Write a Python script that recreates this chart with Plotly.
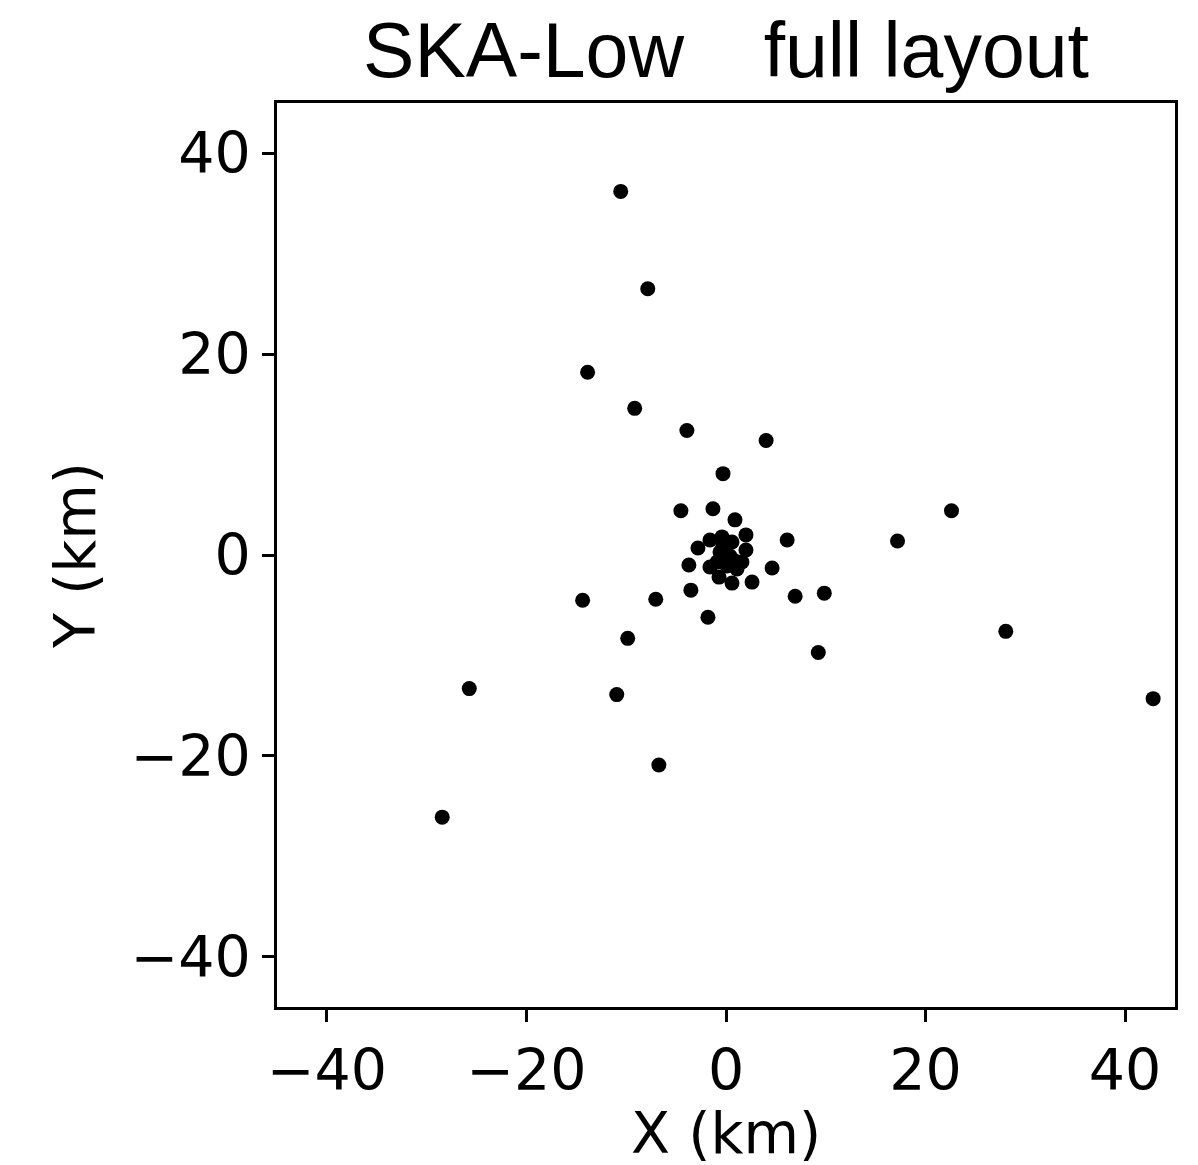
import plotly.graph_objects as go

# Station positions (km)
x_km = [-10.55, -7.84, -13.87, -9.15, -3.92, 4.02, -0.3, -4.52, -1.31, 0.9,
        2.0, 6.13, 17.19, 22.6, -2.81, -1.61, -0.4, 0.6, 2.0, 1.6,
        -3.72, -1.61, -0.7, 0.6, 2.61, 4.62, -3.52, -7.04, -14.37, -1.81,
        6.93, 9.85, -9.85, 9.25, 28.04, 42.81, -25.73, -10.95, -6.73, -28.44,
        -0.6, 0.4, -0.9, 0.1, 0.9, -0.3, 1.1]
y_km = [36.2, 26.5, 18.2, 14.6, 12.4, 11.4, 8.1, 4.4, 4.6, 3.5,
        2.0, 1.5, 1.4, 4.4, 0.7, 1.5, 1.8, 1.3, 0.5, -0.7,
        -1.0, -1.2, -2.2, -2.8, -2.7, -1.3, -3.5, -4.4, -4.5, -6.2,
        -4.1, -3.8, -8.3, -9.7, -7.6, -14.3, -13.3, -13.9, -20.9, -26.1,
        0.3, -0.1, -0.7, -1.1, -0.6, 0.9, -1.4]

tick_vals = [-40, -20, 0, 20, 40]
title_text = "SKA-Low\u00a0\u00a0\u00a0\u2009full layout"
x_title = "X (km)"
y_title = "Y (km)"

fig = go.Figure()
fig.add_trace(go.Scatter(
    x=x_km, y=y_km, mode="markers",
    marker=dict(color="black", size=15, line=dict(width=0)),
    showlegend=False,
))

axis_common = dict(
    showgrid=False, zeroline=False,
    showline=True, mirror=True, linecolor="black", linewidth=2.5,
    ticks="outside", ticklen=12, tickwidth=2.5, tickcolor="black",
    tickvals=tick_vals,
    tickfont=dict(family="DejaVu Sans", size=57, color="black"),
)

fig.update_layout(
    width=1198, height=1165,
    margin=dict(l=269, r=31, t=95, b=166),
    paper_bgcolor="white", plot_bgcolor="white",
    title=dict(text=title_text, x=0.5, xref="paper", xanchor="center",
               y=0.964, yref="container", yanchor="middle",
               font=dict(family="Liberation Sans", size=77, color="black")),
    xaxis=dict(axis_common, range=[-45, 45]),
    yaxis=dict(axis_common, range=[-45, 45],
               title=dict(text=y_title, font=dict(family="DejaVu Sans", size=57, color="black"), standoff=17)),
)

fig.add_annotation(
    text=x_title, xref="paper", yref="paper", x=0.5, y=-0.139,
    xanchor="center", yanchor="middle", showarrow=False,
    font=dict(family="DejaVu Sans", size=57, color="black"),
)

fig.write_html("out.html")
